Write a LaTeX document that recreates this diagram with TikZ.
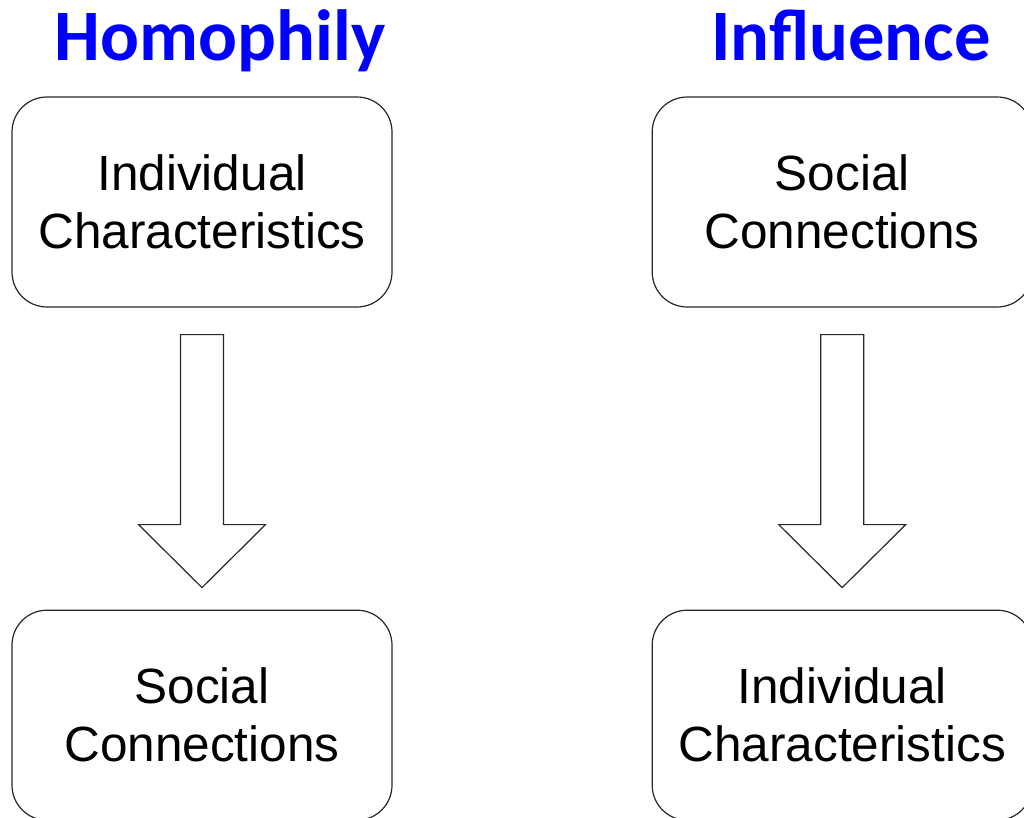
\documentclass[tikz,border=0pt]{standalone}
\usepackage{fontspec}
\setmainfont{Liberation Sans}
\newfontfamily\titlefont{Carlito}
\usetikzlibrary{calc, positioning}
\tikzset{
    boxnode/.style = {draw=black!85, rectangle, rounded corners=35pt, line width=1.2pt,
      minimum width=380pt, minimum height=210pt, inner sep=0pt, align=center,
      font=\fontsize{49.5}{58}\selectfont},
    titlenode/.style = {draw=none, anchor=base, text=blue, inner sep=0pt,
      font=\titlefont\bfseries\fontsize{72.5}{72.5}\selectfont},
    blockarrow/.style = {draw=black!85, fill=white, line width=1.2pt, line join=miter}
}
\newcommand{\downarrowshape}[2]{%
  \draw[blockarrow] ($(#1.south)+(-21.5pt,-27pt)$) -- ($(#1.south)+(21.5pt,-27pt)$)
    -- ($(#2.north)+(21.5pt,85pt)$) -- ($(#2.north)+(63.5pt,85pt)$)
    -- ($(#2.north)+(0pt,22pt)$) -- ($(#2.north)+(-63.5pt,85pt)$)
    -- ($(#2.north)+(-21.5pt,85pt)$) -- cycle;}
\begin{document}
\begin{tikzpicture}
\clip (0pt,0pt) rectangle (1024pt,-817pt);

% left column
\node [titlenode, name = homophily] at (220pt,-60pt) {Homophily};
\node [boxnode, name = indivA] at (202pt,-202pt) {Individual\\Characteristics};
\node [boxnode, name = socialA, below = 302pt of indivA] {Social\\Connections};

% right column
\node [titlenode, name = influence] at (851pt,-60pt) {Influence};
\node [boxnode, name = socialB, right = 259pt of indivA] {Social\\Connections};
\node [boxnode, name = indivB, below = 302pt of socialB] {Individual\\Characteristics};

\downarrowshape{indivA}{socialA}
\downarrowshape{socialB}{indivB}

\end{tikzpicture}
\end{document}
